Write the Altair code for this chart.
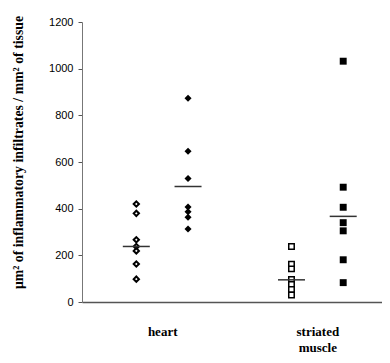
import altair as alt
import pandas as pd

# values
heart_open = [420, 380, 267, 238, 219, 163, 98]
heart_filled = [873, 646, 529, 407, 387, 363, 313]
striated_open = [238, 162, 142, 97, 75, 54, 30]
striated_filled = [1032, 492, 406, 340, 305, 181, 83]
group_lines = [238, 495, 95, 367]
group_pos = [1, 2, 4, 5]
category_labels = ["heart", "striated muscle"]
category_pos = [1.5, 4.5]

series = [heart_open, heart_filled, striated_open, striated_filled]
rows = []
for i, vals in enumerate(series):
    for v in vals:
        rows.append({"grp": i, "pos": group_pos[i], "value": v})
pts = pd.DataFrame(rows)
lines = pd.DataFrame({"pos": group_pos, "value": group_lines})

xscale = alt.Scale(domain=[-0.05, 5.75], nice=False, zero=False)
yscale = alt.Scale(domain=[0, 1200], nice=False)

xaxis = alt.Axis(
    values=category_pos,
    labelExpr="datum.value < 3 ? 'heart' : ['striated', 'muscle']",
    ticks=False, grid=False, title=None,
    labelFont="Liberation Serif", labelFontWeight="bold", labelFontSize=13,
    labelColor="black", labelPadding=23, labelLineHeight=16,
    domainColor="#555555", domainWidth=1.5,
)
yaxis = alt.Axis(
    values=[0, 200, 400, 600, 800, 1000, 1200], grid=False, format="d",
    title="μm² of inflammatory infiltrates / mm² of tissue",
    titleFont="Liberation Serif", titleFontWeight="bold", titleFontSize=13.8,
    titleColor="black", titleX=-64, titleY=130, titleAngle=-90,
    titleAlign="center", titleBaseline="middle",
    labelFont="Liberation Sans", labelFontSize=11, labelColor="black",
    labelPadding=5, tickSize=4, tickColor="#555555", domainColor="#777777",
    domainWidth=1,
)

base = alt.Chart(pts)

layers = []
specs = [
    (0, "diamond", False, 28, 2.0),
    (1, "diamond", True, 50, 1.0),
    (2, "square", False, 30, 1.5),
    (3, "square", True, 48, 1.0),
]
for g, shape, filled, size, sw in specs:
    m = base.transform_filter(alt.datum.grp == g).mark_point(
        shape=shape, filled=filled, size=size, strokeWidth=sw,
        color="black", opacity=1, fill="black" if filled else "white",
    ).encode(
        x=alt.X("pos:Q", scale=xscale, axis=xaxis),
        y=alt.Y("value:Q", scale=yscale, axis=yaxis),
    )
    layers.append(m)

ticks = alt.Chart(lines).mark_tick(
    orient="horizontal", size=27, thickness=1.5, color="#333333", opacity=1
).encode(
    x=alt.X("pos:Q", scale=xscale),
    y=alt.Y("value:Q", scale=yscale),
)
layers.append(ticks)

chart = alt.layer(*layers).properties(
    width=300, height=280,
    autosize=alt.AutoSizeParams(type="none"),
    padding={"left": 74, "top": 14, "right": 0, "bottom": 53},
    background="white",
).configure_view(stroke=None)

chart.save("out.html", embed_options={"renderer": "svg", "actions": False})
